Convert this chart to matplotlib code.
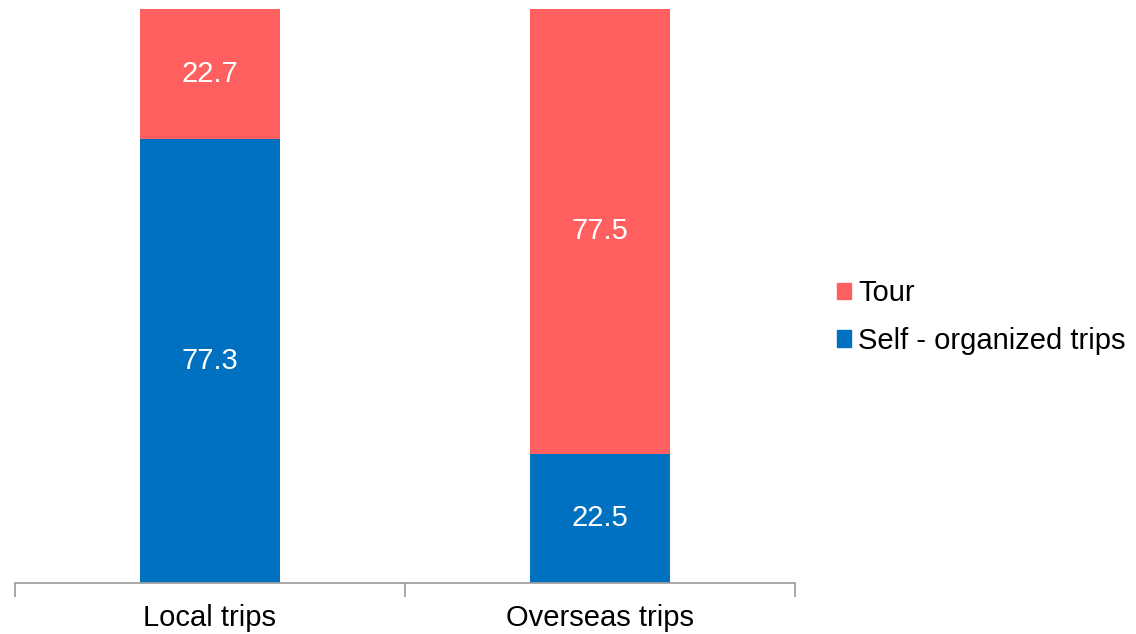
import matplotlib.pyplot as plt
from matplotlib.patches import Patch

plt.rcParams['font.family'] = ['Liberation Sans', 'DejaVu Sans']

categories = ['Local trips', 'Overseas trips']
self_org = [77.3, 22.5]
tour = [22.7, 77.5]

blue = '#0070C0'
red = '#FF5F5F'

fig = plt.figure(figsize=(11.36, 6.34), dpi=100)
ax = fig.add_axes([15 / 1136, 1 - 583 / 634, 780 / 1136, 574 / 634])

x = range(len(categories))
w = 0.36
b1 = ax.bar(x, self_org, width=w, color=blue, label='Self - organized trips')
b2 = ax.bar(x, tour, width=w, bottom=self_org, color=red, label='Tour')

# value labels centred in each segment
for bars in (b1, b2):
    ax.bar_label(bars, labels=[f'{v:.1f}' for v in bars.datavalues],
                 label_type='center', color='white', fontsize=21)

ax.set_xlim(-0.5, 1.5)
ax.set_ylim(0, 100)
ax.set_yticks([])
ax.set_xticks([-0.5, 0.5, 1.5], minor=False)
ax.set_xticklabels([])
ax.tick_params(axis='x', length=10, width=1.3, color='#A0A0A0', direction='out')
ax.set_xticks(list(x), minor=True)
ax.set_xticklabels(categories, minor=True, fontsize=21)
ax.tick_params(axis='x', which='minor', length=0, pad=15)

for s in ('top', 'right', 'left'):
    ax.spines[s].set_visible(False)
ax.spines['bottom'].set_color('#A0A0A0')
ax.spines['bottom'].set_linewidth(1.3)

handles = [Patch(color=red, label='Tour'),
           Patch(color=blue, label='Self - organized trips')]
fig.legend(handles=handles, loc='center left', bbox_to_anchor=(837 / 1136, 1 - 317 / 634),
           frameon=False, fontsize=21, handlelength=0.48, handleheight=0.48,
           handletextpad=0.24, labelspacing=0.68, borderpad=0, borderaxespad=0)

fig.savefig('out.png', dpi=100)
